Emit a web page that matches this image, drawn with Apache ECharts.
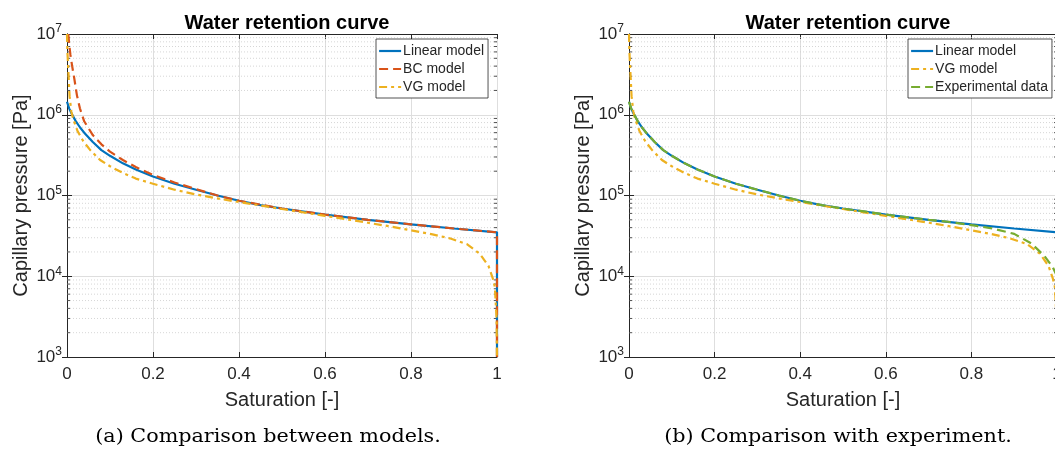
<!DOCTYPE html>
<html><head><meta charset="utf-8">
<script src="https://cdn.jsdelivr.net/npm/echarts@6/dist/echarts.min.js"></script>
<style>html,body{margin:0;padding:0;background:#fff}#c{width:1055px;height:453px}</style>
</head><body><div id="c"></div>
<script>
// ---- data (saturation [-], capillary pressure [Pa]) ----
const xTicks = [0, 0.2, 0.4, 0.6, 0.8, 1];
const yDecadeExponents = [3, 4, 5, 6, 7];

const sLinear = [0, 0.005, 0.01, 0.02, 0.03, 0.04, 0.06, 0.08, 0.1, 0.13, 0.16, 0.2, 0.25, 0.3, 0.35, 0.4, 0.45, 0.5, 0.6, 0.7, 0.8, 0.9, 1, 1];
const pLinear = [1.45e6, 1.2e6, 1.05e6, 8.4e5, 7.0e5, 6.0e5, 4.6e5, 3.65e5, 3.1e5, 2.5e5, 2.1e5, 1.72e5, 1.4e5, 1.18e5, 1.0e5, 8.6e4, 7.6e4, 6.9e4, 5.8e4, 5.0e4, 4.4e4, 3.9e4, 3.5e4, 1e3];

const sBC = [0.003, 0.005, 0.008, 0.012, 0.017, 0.023, 0.03, 0.04, 0.06, 0.08, 0.1, 0.13, 0.16, 0.2, 0.25, 0.3, 0.35, 0.4, 0.5, 0.6, 0.7, 0.8, 0.9, 1, 1];
const pBC = [1e7, 7.5e6, 5.5e6, 4.0e6, 2.8e6, 1.75e6, 1.2e6, 8.3e5, 5.6e5, 4.3e5, 3.5e5, 2.75e5, 2.25e5, 1.8e5, 1.45e5, 1.2e5, 1.0e5, 8.6e4, 6.9e4, 5.8e4, 5.0e4, 4.4e4, 3.9e4, 3.5e4, 1e3];

const sVG = [0, 0.001, 0.003, 0.006, 0.01, 0.015, 0.025, 0.038, 0.055, 0.077, 0.1, 0.13, 0.16, 0.2, 0.25, 0.3, 0.35, 0.4, 0.5, 0.6, 0.7, 0.75, 0.8, 0.85, 0.89, 0.93, 0.96, 0.98, 0.99, 0.995, 0.999, 1];
const pVG = [1e7, 6e6, 3.6e6, 1.7e6, 1.1e6, 8.7e5, 6.2e5, 4.7e5, 3.6e5, 2.75e5, 2.3e5, 1.9e5, 1.62e5, 1.4e5, 1.18e5, 1.03e5, 9.2e4, 8.3e4, 6.8e4, 5.6e4, 4.6e4, 4.15e4, 3.7e4, 3.3e4, 2.95e4, 2.5e4, 1.9e4, 1.35e4, 9.5e3, 7.4e3, 3e3, 1e3];

const sExp = [0, 0.005, 0.01, 0.02, 0.03, 0.04, 0.06, 0.08, 0.1, 0.13, 0.16, 0.2, 0.25, 0.3, 0.35, 0.4, 0.45, 0.5, 0.6, 0.7, 0.75, 0.8, 0.85, 0.9, 0.94, 0.97, 0.99, 1];
const pExp = [1.45e6, 1.2e6, 1.05e6, 8.4e5, 7.0e5, 6.0e5, 4.6e5, 3.65e5, 3.1e5, 2.5e5, 2.1e5, 1.72e5, 1.4e5, 1.18e5, 1.0e5, 8.6e4, 7.6e4, 6.9e4, 5.8e4, 5.0e4, 4.7e4, 4.3e4, 3.9e4, 3.35e4, 2.55e4, 1.8e4, 1.3e4, 1.0e4];

const minorMultipliers = [2, 3, 4, 5, 6, 7, 8, 9];

// ---- build ----
const C_BLUE = '#0072BD', C_ORANGE = '#D95319', C_YELLOW = '#EDB120', C_GREEN = '#77AC30';
const AX = '#262626';
const FONT = 'Liberation Sans, Arial, sans-serif';
const LW = 2.2;
function pts(s, p) { return s.map((v, i) => [v, Math.log10(p[i])]); }
const minorVals = [];
for (let e = yDecadeExponents[0]; e < yDecadeExponents[yDecadeExponents.length - 1]; e++)
  minorMultipliers.forEach(m => minorVals.push([0, Math.log10(m) + e]));

const grids = [
  { left: 67, top: 34, width: 430, height: 323, outerBoundsMode: 'none', containLabel: false },
  { left: 629, top: 34, width: 428, height: 323, outerBoundsMode: 'none', containLabel: false }
];

const xAxes = [], yAxes = [];
grids.forEach((g, gi) => {
  xAxes.push({
    gridIndex: gi, type: 'value', min: xTicks[0], max: xTicks[xTicks.length - 1], interval: 0.2, position: 'bottom',
    name: 'Saturation [-]', nameLocation: 'middle', nameGap: 33,
    nameTextStyle: { fontFamily: FONT, fontSize: 20, color: AX },
    axisLine: { show: true, lineStyle: { color: AX, width: 1 } },
    axisTick: { show: true, inside: true, length: 5, lineStyle: { color: AX } },
    axisLabel: { fontFamily: FONT, fontSize: 17, color: AX, margin: 9,
      formatter: v => (v === 0 ? '0' : v === 1 ? '1' : v.toFixed(1)) },
    splitLine: { show: true, lineStyle: { color: '#dedede', width: 1 } }
  });
  xAxes.push({
    gridIndex: gi, type: 'value', min: 0, max: 1, interval: 0.2, position: 'top',
    axisLine: { show: true, lineStyle: { color: AX, width: 1 } },
    axisTick: { show: true, inside: true, length: 5, lineStyle: { color: AX } },
    axisLabel: { show: false }, splitLine: { show: false }
  });
  yAxes.push({
    gridIndex: gi, type: 'value', min: 3, max: 7, interval: 1, position: 'left',
    name: 'Capillary pressure [Pa]', nameLocation: 'middle', nameGap: 36, nameRotate: 90,
    nameTextStyle: { fontFamily: FONT, fontSize: 20, color: AX },
    axisLine: { show: true, lineStyle: { color: AX, width: 1 } },
    axisTick: { show: true, inside: true, length: 5, lineStyle: { color: AX } },
    axisLabel: { margin: 5, formatter: v => '{b|10}{s|' + v + '}',
      rich: { b: { fontFamily: FONT, fontSize: 17, color: AX },
              s: { fontFamily: FONT, fontSize: 12, color: AX, padding: [0, 0, 10, 0] } } },
    splitLine: { show: true, lineStyle: { color: '#dedede', width: 1 } }
  });
  yAxes.push({
    gridIndex: gi, type: 'value', min: 3, max: 7, interval: 1, position: 'right',
    axisLine: { show: true, lineStyle: { color: AX, width: 1 } },
    axisTick: { show: true, inside: true, length: 5, lineStyle: { color: AX } },
    axisLabel: { show: false }, splitLine: { show: false }
  });
});

function minorSeries(gi) {
  return {
    type: 'custom', xAxisIndex: gi * 2, yAxisIndex: gi * 2, z: 1, silent: true,
    encode: { x: 0, y: 1 }, data: minorVals,
    renderItem: (params, api) => {
      const v = api.value(1);
      const a = api.coord([0, v]), b = api.coord([1, v]);
      return { type: 'group', children: [
        { type: 'line', shape: { x1: a[0], y1: a[1], x2: b[0], y2: b[1] },
          style: { stroke: '#cccccc', lineWidth: 0.8, lineDash: [1, 2] } },
        { type: 'line', shape: { x1: a[0], y1: a[1], x2: a[0] + 3, y2: a[1] },
          style: { stroke: AX, lineWidth: 0.8 } },
        { type: 'line', shape: { x1: b[0] - 3, y1: b[1], x2: b[0], y2: b[1] },
          style: { stroke: AX, lineWidth: 0.8 } }
      ] };
    }
  };
}
function lineSeries(name, gi, data, color, dash) {
  return {
    name, type: 'line', xAxisIndex: gi * 2, yAxisIndex: gi * 2, data,
    showSymbol: false, symbol: 'none', smooth: false, z: 3,
    lineStyle: { color, width: LW, type: dash || 'solid' }, itemStyle: { color },
    emphasis: { disabled: true }
  };
}
const DASH = [9, 5], DASHDOT = [8, 4, 3, 4];

const series = [
  minorSeries(0), minorSeries(1),
  lineSeries('Linear model', 0, pts(sLinear, pLinear), C_BLUE),
  lineSeries('BC model', 0, pts(sBC, pBC), C_ORANGE, DASH),
  lineSeries('VG model', 0, pts(sVG, pVG), C_YELLOW, DASHDOT),
  lineSeries('Linear model', 1, pts(sLinear, pLinear), C_BLUE),
  lineSeries('VG model', 1, pts(sVG, pVG), C_YELLOW, DASHDOT),
  lineSeries('Experimental data', 1, pts(sExp, pExp), C_GREEN, DASH)
];

const legendBase = {
  orient: 'vertical', itemWidth: 22, itemHeight: 14, itemGap: 4,
  backgroundColor: '#fff', borderColor: AX, borderWidth: 0.8, borderRadius: 0,
  padding: [5, 4, 4, 2], selectedMode: false,
  itemStyle: { color: 'rgba(0,0,0,0)', borderWidth: 0, opacity: 0 },
  lineStyle: { width: LW },
  textStyle: { fontFamily: FONT, fontSize: 14, color: AX, padding: [0, 0, 0, -3] }
};

const option = {
  animation: false,
  backgroundColor: '#fff',
  title: [
    { text: 'Water retention curve', left: 282, top: 8, textAlign: 'center',
      textStyle: { fontFamily: FONT, fontSize: 20, fontWeight: 'bold', color: '#000' } },
    { text: 'Water retention curve', left: 843, top: 8, textAlign: 'center',
      textStyle: { fontFamily: FONT, fontSize: 20, fontWeight: 'bold', color: '#000' } }
  ],
  legend: [
    Object.assign({}, legendBase, { left: 376, top: 39, data: ['Linear model', 'BC model', 'VG model'] }),
    Object.assign({}, legendBase, { left: 908, top: 39, data: ['Linear model', 'VG model', 'Experimental data'] })
  ],
  grid: grids,
  xAxis: xAxes,
  yAxis: yAxes,
  series,
  graphic: [
    { type: 'text', x: 268, y: 437, scaleX: 1.15, style: { text: '(a) Comparison between models.', font: '18px "DejaVu Serif", serif', fill: '#000', textAlign: 'center', textVerticalAlign: 'middle' } },
    { type: 'text', x: 838, y: 437, scaleX: 1.15, style: { text: '(b) Comparison with experiment.', font: '18px "DejaVu Serif", serif', fill: '#000', textAlign: 'center', textVerticalAlign: 'middle' } }
  ]
};
const chart = echarts.init(document.getElementById('c'), null, { renderer: 'canvas' });
chart.setOption(option);
</script>
</body></html>
